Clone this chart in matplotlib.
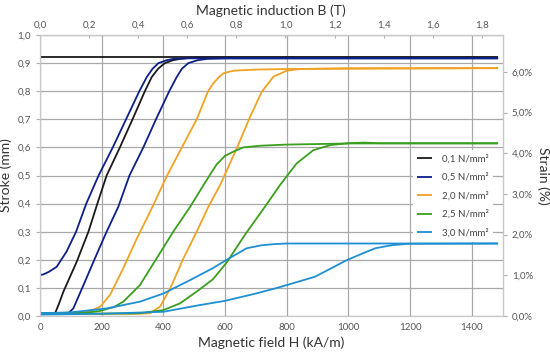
import numpy as np
import matplotlib
matplotlib.use("Agg")
import matplotlib.pyplot as plt
from matplotlib.ticker import FuncFormatter, MultipleLocator

plt.rcParams['font.family'] = ['Lato', 'DejaVu Sans']

# stress levels (legend)
labels = ["0,1 N/mm²", "0,5 N/mm²", "2,0 N/mm²", "2,5 N/mm²", "3,0 N/mm²"]
colors = ["#1a1a1a", "#0d1f8a", "#f0a224", "#3a9e1e", "#1e8fd2"]

# field H (kA/m) and stroke (mm), rising and falling branch per stress
h_01_up = [0, 40, 49, 62, 76, 119, 157, 186, 216, 259, 300, 340, 362, 383, 405, 430, 454, 500, 1485]
s_01_up = [0.008, 0.008, 0.01, 0.045, 0.087, 0.193, 0.3, 0.4, 0.5, 0.6, 0.7, 0.8, 0.85, 0.88, 0.9, 0.91, 0.915, 0.92, 0.92]
h_01_dn = [0, 1485]
s_01_dn = [0.922, 0.922]

h_05_up = [0, 80, 92, 108, 141, 178, 216, 254, 290, 335, 376, 419, 443, 460, 481, 510, 541, 600, 1485]
s_05_up = [0.008, 0.008, 0.01, 0.027, 0.11, 0.205, 0.3, 0.389, 0.5, 0.6, 0.7, 0.8, 0.85, 0.88, 0.9, 0.91, 0.915, 0.917, 0.917]
h_05_dn = [0, 11, 30, 54, 86, 117, 150, 190, 236, 279, 322, 346, 365, 384, 410, 432, 480, 1485]
s_05_dn = [0.146, 0.148, 0.158, 0.175, 0.229, 0.3, 0.4, 0.5, 0.6, 0.7, 0.8, 0.85, 0.88, 0.9, 0.91, 0.915, 0.917, 0.917]

h_20_up = [0, 320, 357, 389, 422, 465, 508, 546, 584, 638, 681, 719, 757, 800, 843, 1000, 1485]
s_20_up = [0.008, 0.008, 0.01, 0.033, 0.098, 0.205, 0.3, 0.389, 0.466, 0.597, 0.709, 0.798, 0.852, 0.873, 0.879, 0.882, 0.882]
h_20_dn = [0, 140, 162, 195, 227, 270, 314, 357, 412, 460, 508, 545, 562, 580, 595, 627, 700, 800, 1485]
s_20_dn = [0.01, 0.012, 0.018, 0.033, 0.075, 0.17, 0.276, 0.371, 0.5, 0.6, 0.7, 0.8, 0.828, 0.85, 0.864, 0.873, 0.877, 0.879, 0.882]

h_25_up = [0, 300, 324, 400, 454, 508, 560, 605, 665, 730, 778, 832, 886, 940, 1000, 1050, 1100, 1485]
s_25_up = [0.008, 0.009, 0.01, 0.021, 0.045, 0.087, 0.13, 0.19, 0.29, 0.39, 0.466, 0.543, 0.59, 0.608, 0.615, 0.617, 0.615, 0.615]
h_25_dn = [0, 150, 195, 240, 270, 324, 378, 432, 487, 530, 573, 600, 627, 659, 714, 800, 1000, 1485]
s_25_dn = [0.01, 0.012, 0.018, 0.032, 0.051, 0.11, 0.205, 0.3, 0.389, 0.466, 0.54, 0.57, 0.585, 0.6, 0.606, 0.61, 0.614, 0.614]

h_30_up = [0, 200, 400, 519, 600, 700, 762, 800, 892, 995, 1040, 1087, 1140, 1194, 1485]
s_30_up = [0.005, 0.008, 0.015, 0.039, 0.054, 0.08, 0.098, 0.11, 0.14, 0.199, 0.22, 0.241, 0.252, 0.257, 0.258]
h_30_dn = [0, 100, 216, 324, 400, 487, 560, 605, 670, 720, 762, 800, 1485]
s_30_dn = [0.01, 0.013, 0.027, 0.051, 0.08, 0.128, 0.17, 0.2, 0.241, 0.252, 0.256, 0.258, 0.258]

curves = [
    (h_01_up, s_01_up, h_01_dn, s_01_dn),
    (h_05_up, s_05_up, h_05_dn, s_05_dn),
    (h_20_up, s_20_up, h_20_dn, s_20_dn),
    (h_25_up, s_25_up, h_25_dn, s_25_dn),
    (h_30_up, s_30_up, h_30_dn, s_30_dn),
]

MU0 = 4e-4 * np.pi          # T per kA/m
STRAIN_PER_MM = 6.0 / 0.869  # % per mm stroke

fig = plt.figure(figsize=(5.5, 3.53), dpi=100)
ax = fig.add_axes([40 / 550, 37 / 353, 462.7 / 550, 281 / 353])

grid_c = "#a9a9a9"
txt_c = "#555555"

for (hu, su, hd, sd), c, lab in zip(curves, colors, labels):
    ax.plot(hd, sd, color=c, lw=1.3, solid_capstyle='butt')
    ax.plot(hu, su, color=c, lw=1.3, label=lab, solid_capstyle='butt')

ax.set_xlim(0, 1500)
ax.set_ylim(0, 1.0)
ax.xaxis.set_major_locator(MultipleLocator(200))
ax.yaxis.set_major_locator(MultipleLocator(0.1))
ax.yaxis.set_major_formatter(FuncFormatter(lambda v, p: f"{v:.1f}".replace(".", ",")))
ax.grid(True, color=grid_c, lw=0.9)
ax.set_axisbelow(True)
for sp in ax.spines.values():
    sp.set_color("#c8c8c8")
    sp.set_linewidth(0.9)
ax.tick_params(axis='both', labelsize=7, colors=txt_c, length=3, width=0.8)
ax.tick_params(axis='x', length=0, pad=5)
ax.tick_params(axis='both', color="#b0b0b0")

ax.set_xlabel("Magnetic field H (kA/m)", fontsize=10, color="#333333", labelpad=3)
ax.set_ylabel("Stroke (mm)", fontsize=10, color="#333333", labelpad=4)

top = ax.secondary_xaxis('top', functions=(lambda h: h * MU0, lambda b: b / MU0))
top.set_xticks(np.arange(0, 1.81, 0.2))
top.xaxis.set_major_formatter(FuncFormatter(lambda v, p: f"{v:.1f}".replace(".", ",")))
top.tick_params(labelsize=7, colors=txt_c, length=2, width=0.8, direction='in', pad=4)
top.tick_params(color="#b0b0b0")
top.spines['top'].set_color("#c8c8c8")
top.set_xlabel("Magnetic induction B (T)", fontsize=10, color="#333333", labelpad=4)

right = ax.secondary_yaxis('right', functions=(lambda s: s * STRAIN_PER_MM, lambda e: e / STRAIN_PER_MM))
right.set_yticks(np.arange(0, 6.01, 1.0))
right.yaxis.set_major_formatter(FuncFormatter(lambda v, p: f"{v:.1f}%".replace(".", ",")))
right.tick_params(labelsize=7, colors=txt_c, length=3, width=0.8)
right.tick_params(color="#b0b0b0")
right.spines['right'].set_color("#c8c8c8")
right.set_ylabel("Strain (%)", fontsize=10, color="#333333", rotation=270, labelpad=12)

leg = ax.legend(loc='upper left', bbox_to_anchor=(0.795, 0.607), fontsize=7,
                frameon=True, facecolor='white', edgecolor='none', framealpha=1,
                fancybox=False, handlelength=1.6, handletextpad=1.0,
                labelspacing=0.95, borderpad=0.4)
for t in leg.get_texts():
    t.set_color("#444444")

fig.savefig("out.png", dpi=100)
